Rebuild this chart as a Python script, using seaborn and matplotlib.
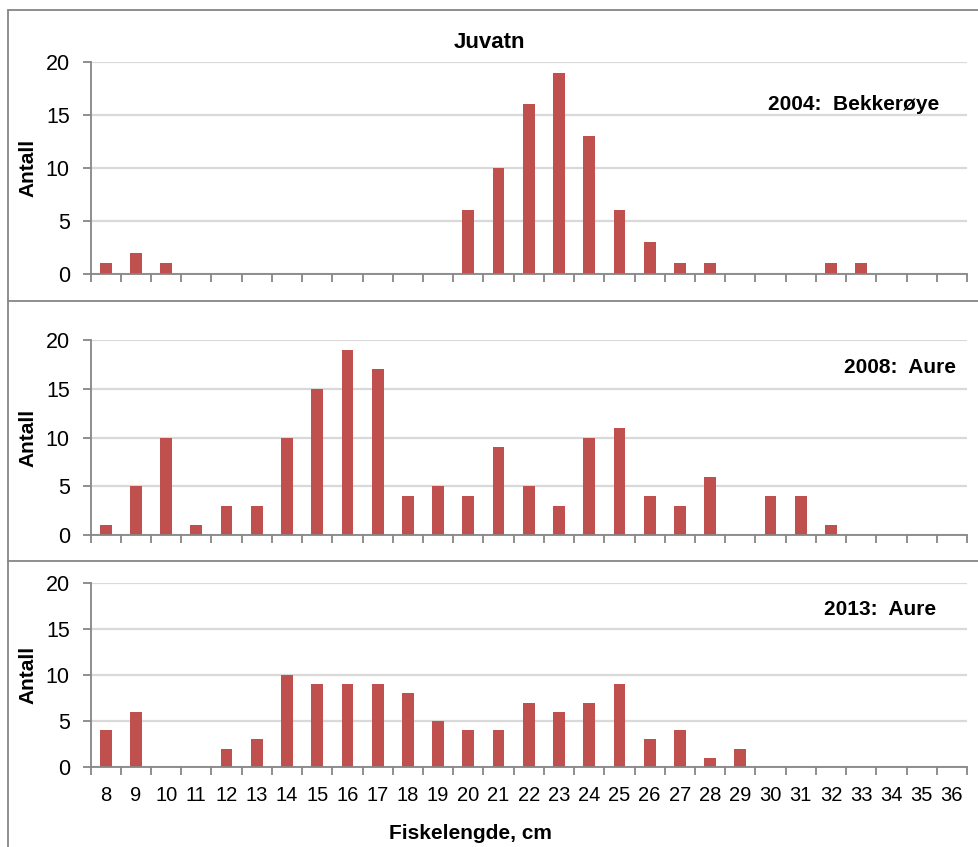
import matplotlib
matplotlib.use("Agg")
import matplotlib.pyplot as plt
from matplotlib.lines import Line2D
import numpy as np
import pandas as pd
import seaborn as sns

# Length classes (cm)
lengths = list(range(8, 37))

# Catch per length class
count_2004 = [1, 2, 1, 0, 0, 0, 0, 0, 0, 0, 0, 0, 6, 10, 16, 19, 13, 6, 3, 1, 1,
              0, 0, 0, 1, 1, 0, 0, 0]
count_2008 = [1, 5, 10, 1, 3, 3, 10, 15, 19, 17, 4, 5, 4, 9, 5, 3, 10, 11, 4, 3, 6,
              0, 4, 4, 1, 0, 0, 0, 0]
count_2013 = [4, 6, 0, 0, 2, 3, 10, 9, 9, 9, 8, 5, 4, 4, 7, 6, 7, 9, 3, 4, 1,
              2, 0, 0, 0, 0, 0, 0, 0]

panel_labels = ["2004:  Bekkerøye", "2008:  Aure", "2013:  Aure"]
title = "Juvatn"
y_label = "Antall"
x_label = "Fiskelengde, cm"
y_ticks = [0, 5, 10, 15, 20]

sns.set_theme(style="white")
plt.rcParams["font.family"] = ["Liberation Sans", "DejaVu Sans"]
plt.rcParams["text.color"] = "black"

BAR = "#C0504D"
AXIS = "#868686"
GRID = "#D9D9D9"
W, H = 979, 847

fig = plt.figure(figsize=(W / 100, H / 100), dpi=100)
fig.patch.set_facecolor("white")


def px_axes(left, right, top, bottom):
    return fig.add_axes([left / W, 1 - bottom / H, (right - left) / W, (bottom - top) / H])


# chart frames
frame_kw = dict(color=AXIS, lw=1.3, transform=fig.transFigure)
for y in (10, 301, 561):
    fig.add_artist(Line2D([8 / W, 1.0], [1 - y / H, 1 - y / H], **frame_kw))
fig.add_artist(Line2D([8 / W, 8 / W], [1 - 10 / H, 0.0], **frame_kw))

# (counts, label, top px, bottom px, label x in axes fraction, label y in data units)
panels = [
    (count_2004, panel_labels[0], 62, 274, 0.968, 16.0),
    (count_2008, panel_labels[1], 340, 535, 0.9875, 17.2),
    (count_2013, panel_labels[2], 583, 767, 0.9646, 17.1),
]
str_lengths = [str(v) for v in lengths]

for i, (counts, label, top, bottom, tx, ty) in enumerate(panels):
    ax = px_axes(90.6, 967, top, bottom)
    df = pd.DataFrame({"length": str_lengths, "count": counts})
    sns.barplot(data=df, x="length", y="count", order=str_lengths, color=BAR,
                saturation=1, width=0.39, ax=ax, edgecolor="none")
    ax.set_xlim(-0.5, len(lengths) - 0.5)
    ax.set_ylim(0, 20)
    ax.set_yticks(y_ticks)
    ax.set_yticklabels([str(t) for t in y_ticks], fontsize=15.5)
    ax.set_axisbelow(True)
    ax.yaxis.grid(True, color=GRID, lw=1.6)
    ax.xaxis.grid(False)
    for s in ("top", "right"):
        ax.spines[s].set_visible(False)
    for s in ("left", "bottom"):
        ax.spines[s].set_color(AXIS)
        ax.spines[s].set_linewidth(1.3)
    ax.tick_params(axis="y", direction="out", length=6, width=1.3, color=AXIS,
                   pad=9, left=True, labelcolor="black")
    # category labels at centres, tick marks at category boundaries
    ax.set_xticks(np.arange(len(lengths)))
    ax.set_xticks(np.arange(len(lengths) + 1) - 0.5, minor=True)
    ax.tick_params(axis="x", which="minor", direction="out", length=6, width=1.3,
                   color=AXIS, bottom=True)
    if i == 2:
        ax.set_xticklabels(str_lengths, fontsize=14.5)
        ax.tick_params(axis="x", which="major", length=0, pad=14, labelcolor="black")
    else:
        ax.tick_params(axis="x", which="major", length=0, labelbottom=False)
    ax.set_xlabel("")
    ax.set_ylabel("")
    ax.text(tx, ty / 20, label, transform=ax.transAxes, fontsize=15,
            fontweight="bold", ha="right", va="center", color="black")
    fig.text(28 / W, 1 - ((top + bottom) / 2) / H, y_label, rotation=90,
             fontsize=15, fontweight="bold", ha="center", va="center", color="black")

fig.text(0.5, 1 - 42 / H, title, fontsize=16, fontweight="bold", ha="center",
         va="center", color="black")
fig.text(470 / W, 1 - 833 / H, x_label, fontsize=15, fontweight="bold",
         ha="center", va="center", color="black")

fig.savefig("out.png", dpi=100, facecolor="white")
